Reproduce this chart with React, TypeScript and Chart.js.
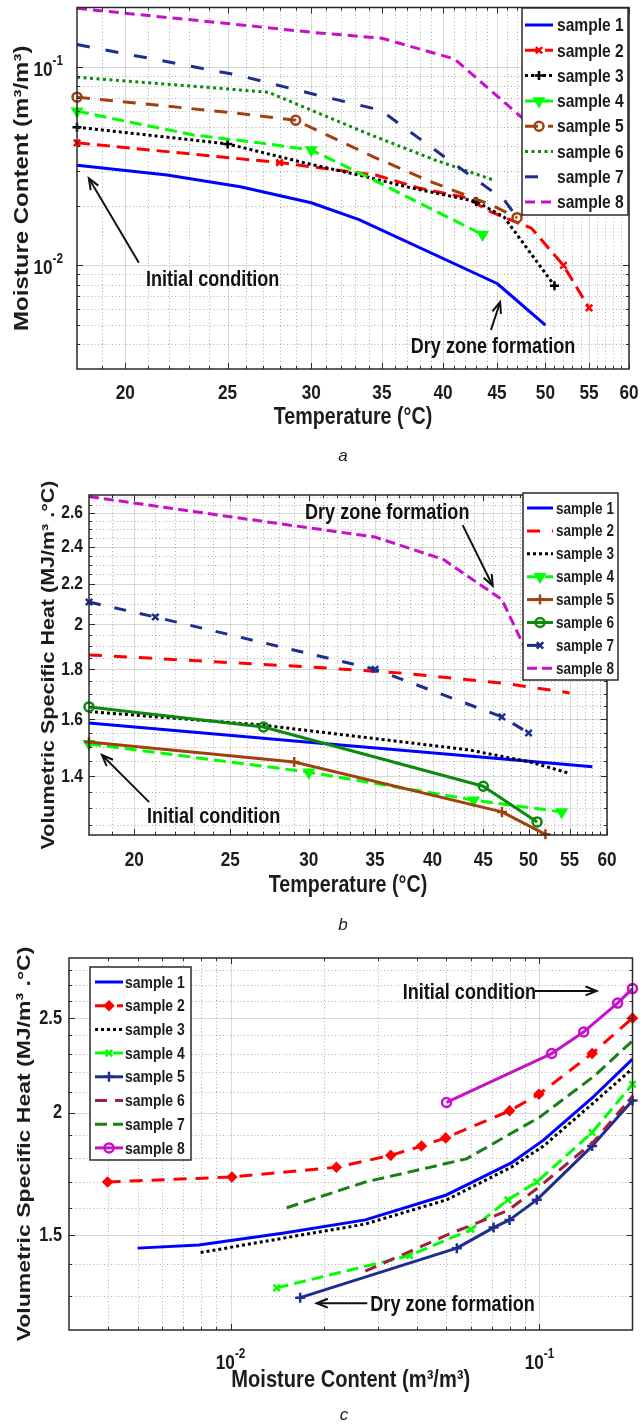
import { useEffect, useRef } from "react";
import { Chart, registerables } from "chart.js";
import { drawPoint } from "chart.js/helpers";

Chart.register(...registerables);

const SANS = '"Liberation Sans", Arial, sans-serif';
const INK = "#1c1c1c";
const SQ = 0.82; // horizontal squeeze of the original figure's lettering

// ---------------- tick values / labels ----------------
const TEMP_TICKS = [20, 25, 30, 35, 40, 45, 50, 55, 60];
const TEMP_TICK_LABELS = ["20", "25", "30", "35", "40", "45", "50", "55", "60"];
const TEMP_MINOR = [19, 21, 22, 23, 24, 26, 27, 28, 29, 31, 32, 33, 34, 36, 37, 38, 39, 41, 42, 43, 44, 46, 47, 48, 49, 51, 52, 53, 54, 56, 57, 58, 59];

const MC_TICKS = [0.01, 0.1];
const MC_TICK_LABELS = ["10⁻²", "10⁻¹"];
const MC_MINOR = [0.004, 0.005, 0.006, 0.007, 0.008, 0.009, 0.02, 0.03, 0.04, 0.05, 0.06, 0.07, 0.08, 0.09];

const CVB_TICKS = [1.4, 1.6, 1.8, 2, 2.2, 2.4, 2.6];
const CVB_TICK_LABELS = ["1.4", "1.6", "1.8", "2", "2.2", "2.4", "2.6"];
const CVB_MINOR = [1.25, 1.3, 1.35, 1.45, 1.5, 1.55, 1.65, 1.7, 1.75, 1.85, 1.9, 1.95, 2.05, 2.1, 2.15, 2.25, 2.3, 2.35, 2.45, 2.5, 2.55, 2.65, 2.7];

const CVC_TICKS = [1.5, 2, 2.5];
const CVC_TICK_LABELS = ["1.5", "2", "2.5"];
const CVC_MINOR = [1.3, 1.4, 1.6, 1.7, 1.8, 1.9, 2.1, 2.2, 2.3, 2.4, 2.6, 2.7, 2.8];

const LABELS = ["sample 1", "sample 2", "sample 3", "sample 4", "sample 5", "sample 6", "sample 7", "sample 8"];

// ---------------- panel a: temperature (°C) vs moisture content (m3/m3) ----------------
const aT1 = [18, 21.9, 25.7, 30, 33.3, 45, 50];
const aM1 = [0.032, 0.0286, 0.0249, 0.0207, 0.017, 0.0081, 0.005];
const aT2 = [18, 28, 34.6, 38, 42, 44.5, 48.5, 52, 55];
const aM2 = [0.0415, 0.033, 0.0285, 0.0245, 0.022, 0.0185, 0.0154, 0.01, 0.0061];
const aT3 = [18, 25, 29.5, 33.8, 37.3, 43, 45.7, 51];
const aM3 = [0.0498, 0.041, 0.033, 0.028, 0.0246, 0.021, 0.0175, 0.0079];
const aT4 = [18, 20.5, 23.2, 26.8, 30, 33.9, 37.8, 43.6];
const aM4 = [0.06, 0.052, 0.0455, 0.0415, 0.0382, 0.028, 0.0209, 0.0143];
const aT5 = [18, 25.5, 29, 34.4, 38.9, 44.4, 47];
const aM5 = [0.0706, 0.0586, 0.054, 0.0352, 0.0265, 0.0202, 0.0174];
const aT6 = [18, 27.3, 33.8, 39.3, 44.6];
const aM6 = [0.089, 0.0748, 0.0466, 0.034, 0.027];
const aT7 = [18, 25.6, 30.4, 34.9, 40.5, 45.7, 47];
const aM7 = [0.13, 0.091, 0.0723, 0.0607, 0.034, 0.0214, 0.0175];
const aT8 = [18, 25, 30, 35, 41, 48];
const aM8 = [0.198, 0.166, 0.15, 0.14, 0.11, 0.053];

// ---------------- panel b: temperature (°C) vs volumetric specific heat ----------------
const bT1 = [18, 30, 45, 58];
const bC1 = [1.587, 1.517, 1.464, 1.432];
const bT2 = [18, 30, 37, 47.6, 55];
const bC2 = [1.862, 1.81, 1.785, 1.74, 1.703];
const bT3 = [18, 26.8, 43.5, 50.2, 55];
const bC3 = [1.63, 1.58, 1.49, 1.448, 1.41];
const bT4 = [18, 30, 44, 54];
const bC4 = [1.511, 1.414, 1.324, 1.288];
const bT5 = [18, 29, 47, 52];
const bC5 = [1.518, 1.448, 1.288, 1.222];
const bT6 = [18, 27, 45, 51];
const bC6 = [1.648, 1.572, 1.368, 1.258];
const bT7 = [18, 21, 35, 47, 50];
const bC7 = [2.108, 2.035, 1.8, 1.61, 1.55];
const bT8 = [18, 25, 35, 41, 47, 51];
const bC8 = [2.7, 2.575, 2.455, 2.33, 2.12, 1.78];

// ---------------- panel c: moisture content vs volumetric specific heat ----------------
const cM1 = [0.005, 0.0079, 0.0149, 0.0273, 0.05, 0.081, 0.103, 0.15, 0.2];
const cC1 = [1.455, 1.466, 1.508, 1.555, 1.649, 1.778, 1.876, 2.08, 2.27];
const cM2 = [0.004, 0.0101, 0.022, 0.033, 0.0415, 0.0497, 0.08, 0.0996, 0.148, 0.2];
const cC2 = [1.7, 1.72, 1.76, 1.81, 1.85, 1.886, 2.01, 2.09, 2.3, 2.5];
const cM3 = [0.008, 0.0149, 0.0273, 0.05, 0.081, 0.103, 0.15, 0.2];
const cC3 = [1.44, 1.49, 1.54, 1.63, 1.76, 1.85, 2.05, 2.22];
const cM4 = [0.0141, 0.038, 0.06, 0.079, 0.098, 0.148, 0.2];
const cC4 = [1.325, 1.43, 1.52, 1.63, 1.7, 1.91, 2.14];
const cM5 = [0.0168, 0.054, 0.071, 0.08, 0.098, 0.148, 0.2];
const cC5 = [1.295, 1.455, 1.527, 1.555, 1.63, 1.85, 2.06];
const cM6 = [0.0273, 0.05, 0.079, 0.0996, 0.15, 0.2];
const cC6 = [1.378, 1.5, 1.59, 1.68, 1.87, 2.08];
const cM7 = [0.0152, 0.0273, 0.058, 0.1, 0.15, 0.2];
const cC7 = [1.6, 1.7, 1.795, 1.98, 2.18, 2.37];
const cM8 = [0.05, 0.1095, 0.139, 0.179, 0.2];
const cC8 = [2.05, 2.3, 2.42, 2.59, 2.68];

// ---------------- styles ----------------
const BLUE = "#0000ff";
const RED = "#ff0000";
const BLACK = "#000000";
const LIME = "#00ff00";
const BROWN = "#a0420f";
const GREEN = "#0b8a0b";
const NAVY = "#1d2e8e";
const MAGENTA = "#c710c7";
const MAROON = "#a3203d";
const DKGREEN = "#178017";

const seriesA = [
  { label: LABELS[0], x: aT1, y: aM1, color: BLUE },
  { label: LABELS[1], x: aT2, y: aM2, color: RED, dash: [13, 7], marker: "crossRot", marks: [0, 1, 7, 8], r: 4.5 },
  { label: LABELS[2], x: aT3, y: aM3, color: BLACK, dash: [3, 3], marker: "cross", marks: [0, 1, 5, 7], r: 4.5 },
  { label: LABELS[3], x: aT4, y: aM4, color: LIME, dash: [12, 6], marker: "triangle", rot: 180, marks: [0, 4, 7], r: 5 },
  { label: LABELS[4], x: aT5, y: aM5, color: BROWN, dash: [13, 10], marker: "circle", open: true, marks: [0, 2, 6], r: 4.5 },
  { label: LABELS[5], x: aT6, y: aM6, color: GREEN, dash: [3, 3.5] },
  { label: LABELS[6], x: aT7, y: aM7, color: NAVY, dash: [13, 16] },
  { label: LABELS[7], x: aT8, y: aM8, color: MAGENTA, dash: [10, 6] },
];

const seriesB = [
  { label: LABELS[0], x: bT1, y: bC1, color: BLUE },
  { label: LABELS[1], x: bT2, y: bC2, color: RED, dash: [13, 12] },
  { label: LABELS[2], x: bT3, y: bC3, color: BLACK, dash: [3, 3] },
  { label: LABELS[3], x: bT4, y: bC4, color: LIME, dash: [12, 6], marker: "triangle", rot: 180, r: 5 },
  { label: LABELS[4], x: bT5, y: bC5, color: BROWN, marker: "cross", r: 5 },
  { label: LABELS[5], x: bT6, y: bC6, color: GREEN, marker: "circle", open: true, r: 4.5 },
  { label: LABELS[6], x: bT7, y: bC7, color: NAVY, dash: [12, 14], marker: "crossRot", r: 4.5 },
  { label: LABELS[7], x: bT8, y: bC8, color: MAGENTA, dash: [10, 5] },
];

const seriesC = [
  { label: LABELS[0], x: cM1, y: cC1, color: BLUE },
  { label: LABELS[1], x: cM2, y: cC2, color: RED, dash: [13, 9], marker: "rectRot", r: 4 },
  { label: LABELS[2], x: cM3, y: cC3, color: BLACK, dash: [3, 3] },
  { label: LABELS[3], x: cM4, y: cC4, color: LIME, dash: [12, 6], marker: "crossRot", r: 4.5 },
  { label: LABELS[4], x: cM5, y: cC5, color: NAVY, marker: "cross", r: 5 },
  { label: LABELS[5], x: cM6, y: cC6, color: MAROON, dash: [12, 8] },
  { label: LABELS[6], x: cM7, y: cC7, color: DKGREEN, dash: [12, 6] },
  { label: LABELS[7], x: cM8, y: cC8, color: MAGENTA, marker: "circle", open: true, r: 4.5 },
];

// ---------------- panels ----------------
const PANEL_A = {
  id: "a",
  top: 0,
  height: 475,
  area: { left: 77, top: 7, right: 629, bottom: 369 },
  xMin: 18, xMax: 60, yMin: 0.003, yMax: 0.2,
  xMajor: TEMP_TICKS, xLabels: TEMP_TICK_LABELS, xMinor: TEMP_MINOR,
  yMajor: MC_TICKS, yLabels: MC_TICK_LABELS, yMinor: MC_MINOR,
  xTitle: "Temperature (°C)", yTitle: "Moisture Content (m³/m³)",
  xTickDy: 24, xTickSize: 21, yTickDx: 14, yTickSize: 21,
  xTitleSize: 24, xTitleDy: 48, yTitleSize: 24, yTitleX: 23,
  series: seriesA,
  legend: { x: 522, y: 8, w: 106, h: 207, row0: 25, step: 25.3, lx0: 525, lx1: 553, tx: 557, size: 19 },
  notes: [
    { text: "Initial condition", at: [24.2, 0.00843], from: [20.6, 0.0103], to: [18.47, 0.0275] },
    { text: "Dry zone formation", at: [44.6, 0.00387], from: [44.4, 0.00472], to: [45.3, 0.00653] },
  ],
  caption: { text: "a", x: 343, y: 456 },
};

const PANEL_B = {
  id: "b",
  top: 475,
  height: 470,
  area: { left: 89, top: 20, right: 607, bottom: 360 },
  xMin: 18, xMax: 60, yMin: 1.22, yMax: 2.71,
  xMajor: TEMP_TICKS, xLabels: TEMP_TICK_LABELS, xMinor: TEMP_MINOR,
  yMajor: CVB_TICKS, yLabels: CVB_TICK_LABELS, yMinor: CVB_MINOR,
  xTitle: "Temperature (°C)", yTitle: "Volumetric Specific Heat (MJ/m³ .°C)",
  xTickDy: 25, xTickSize: 21, yTickDx: 6, yTickSize: 19,
  xTitleSize: 24, xTitleDy: 50, yTitleSize: 21.5, yTitleX: 49,
  series: seriesB,
  legend: { x: 523, y: 18, w: 95, h: 187, row0: 33, step: 22.9, lx0: 527, lx1: 553, tx: 556, size: 16.5 },
  notes: [
    { text: "Dry zone formation", at: [36.0, 2.598], from: [42.9, 2.525], to: [46.0, 2.19] },
    { text: "Initial condition", at: [24.05, 1.272], from: [20.7, 1.318], to: [18.55, 1.472] },
  ],
  caption: { text: "b", x: 343, y: 450 },
};

const PANEL_C = {
  id: "c",
  top: 945,
  height: 480,
  area: { left: 69, top: 13, right: 636, bottom: 385 },
  xMin: 0.003, xMax: 0.2, yMin: 1.2, yMax: 2.88,
  xMajor: MC_TICKS, xLabels: MC_TICK_LABELS, xMinor: MC_MINOR,
  yMajor: CVC_TICKS, yLabels: CVC_TICK_LABELS, yMinor: CVC_MINOR,
  xTitle: "Moisture Content (m³/m³)", yTitle: "Volumetric Specific Heat (MJ/m³ .°C)",
  xTickDy: 30, xTickSize: 21, yTickDx: 7, yTickSize: 20,
  xTitleSize: 24.5, xTitleDy: 50, yTitleSize: 23, yTitleX: 25,
  series: seriesC,
  legend: { x: 90, y: 22, w: 101, h: 193, row0: 37, step: 23.7, lx0: 95, lx1: 123, tx: 125, size: 17 },
  notes: [
    { text: "Initial condition", at: [0.0593, 2.652], from: [0.0967, 2.665], to: [0.1531, 2.665] },
    { text: "Dry zone formation", at: [0.0523, 1.272], from: [0.0277, 1.278], to: [0.019, 1.278] },
  ],
  caption: { text: "c", x: 344, y: 470 },
};

// ---------------- helpers ----------------
const SUP: Record<string, string> = { "⁻": "-", "⁰": "0", "¹": "1", "²": "2", "³": "3", "⁴": "4", "⁵": "5", "⁶": "6", "⁷": "7", "⁸": "8", "⁹": "9" };

function sqText(ctx: CanvasRenderingContext2D, text: string, x: number, y: number, size: number, align: CanvasTextAlign = "center", style = "bold") {
  ctx.save();
  ctx.font = `${style} ${size}px ${SANS}`;
  ctx.textAlign = align;
  ctx.textBaseline = "middle";
  ctx.translate(x, y);
  ctx.scale(SQ, 1);
  ctx.fillText(text, 0, 0);
  ctx.restore();
}

// tick label; labels such as "10⁻²" are drawn as base + raised exponent
function tickText(ctx: CanvasRenderingContext2D, label: string, x: number, y: number, size: number, align: "center" | "right") {
  const m = label.match(/^(\d+)([⁻⁰¹²³⁴⁵⁶⁷⁸⁹]+)$/);
  if (!m) {
    sqText(ctx, label, x, y, size, align);
    return;
  }
  const base = m[1];
  const exp = m[2].split("").map((c) => SUP[c] || c).join("");
  const es = size * 0.68;
  ctx.save();
  ctx.font = `bold ${size}px ${SANS}`;
  const w1 = ctx.measureText(base).width * SQ;
  ctx.font = `bold ${es}px ${SANS}`;
  const w2 = ctx.measureText(exp).width * SQ;
  ctx.restore();
  const total = w1 + w2;
  const left = align === "center" ? x - total / 2 : x - total;
  sqText(ctx, base, left, y + size * 0.15, size, "left");
  sqText(ctx, exp, left + w1, y - size * 0.3, es, "left");
}

function toDataset(s: any, i: number, n: number) {
  const marks: number[] = s.marker ? s.marks || s.x.map((_: number, k: number) => k) : [];
  return {
    label: s.label,
    data: s.x.map((v: number, k: number) => ({ x: v, y: s.y[k] })),
    showLine: true,
    order: n - i,
    clip: false,
    borderColor: s.color,
    backgroundColor: s.color,
    borderWidth: 3,
    borderDash: s.dash || [],
    borderCapStyle: "butt",
    borderJoinStyle: "round",
    tension: 0,
    pointStyle: s.marker || "circle",
    pointRotation: s.rot || 0,
    pointRadius: s.x.map((_: number, k: number) => (marks.includes(k) ? s.r || 5 : 0)),
    pointHitRadius: 0,
    pointHoverRadius: 0,
    pointBorderColor: s.color,
    pointBackgroundColor: s.open ? "rgba(255,255,255,0)" : s.color,
    pointBorderWidth: 2.5,
  };
}

function arrowTo(ctx: CanvasRenderingContext2D, x0: number, y0: number, x1: number, y1: number) {
  ctx.beginPath();
  ctx.moveTo(x0, y0);
  ctx.lineTo(x1, y1);
  ctx.stroke();
  const a = Math.atan2(y1 - y0, x1 - x0);
  const L = 12;
  const sp = 0.38;
  ctx.beginPath();
  ctx.moveTo(x1 - L * Math.cos(a - sp), y1 - L * Math.sin(a - sp));
  ctx.lineTo(x1, y1);
  ctx.lineTo(x1 - L * Math.cos(a + sp), y1 - L * Math.sin(a + sp));
  ctx.stroke();
}

function panelPlugin(p: any) {
  return {
    id: "panel-" + p.id,
    beforeDatasetsDraw(chart: any) {
      const { ctx, chartArea: a } = chart;
      const sx = chart.scales.x;
      const sy = chart.scales.y;
      ctx.save();
      ctx.lineWidth = 1;
      ctx.strokeStyle = "rgba(110,110,110,0.55)";
      ctx.setLineDash([1, 2.5]);
      ctx.beginPath();
      for (const v of p.xMinor) {
        const px = Math.round(sx.getPixelForValue(v)) + 0.5;
        ctx.moveTo(px, a.top);
        ctx.lineTo(px, a.bottom);
      }
      for (const v of p.yMinor) {
        const py = Math.round(sy.getPixelForValue(v)) + 0.5;
        ctx.moveTo(a.left, py);
        ctx.lineTo(a.right, py);
      }
      ctx.stroke();
      ctx.setLineDash([]);
      ctx.strokeStyle = "rgba(0,0,0,0.15)";
      ctx.beginPath();
      for (const v of p.xMajor) {
        const px = Math.round(sx.getPixelForValue(v)) + 0.5;
        ctx.moveTo(px, a.top);
        ctx.lineTo(px, a.bottom);
      }
      for (const v of p.yMajor) {
        const py = Math.round(sy.getPixelForValue(v)) + 0.5;
        ctx.moveTo(a.left, py);
        ctx.lineTo(a.right, py);
      }
      ctx.stroke();
      ctx.restore();
    },
    afterDatasetsDraw(chart: any) {
      const { ctx, chartArea: a } = chart;
      const sx = chart.scales.x;
      const sy = chart.scales.y;
      ctx.save();
      // frame
      ctx.strokeStyle = "#2a2a2a";
      ctx.lineWidth = 1.5;
      ctx.setLineDash([]);
      ctx.strokeRect(a.left, a.top, a.right - a.left, a.bottom - a.top);
      // inward ticks
      ctx.lineWidth = 1;
      ctx.beginPath();
      const xt = (vals: number[], len: number) => {
        for (const v of vals) {
          const px = Math.round(sx.getPixelForValue(v)) + 0.5;
          ctx.moveTo(px, a.bottom);
          ctx.lineTo(px, a.bottom - len);
          ctx.moveTo(px, a.top);
          ctx.lineTo(px, a.top + len);
        }
      };
      const yt = (vals: number[], len: number) => {
        for (const v of vals) {
          const py = Math.round(sy.getPixelForValue(v)) + 0.5;
          ctx.moveTo(a.left, py);
          ctx.lineTo(a.left + len, py);
          ctx.moveTo(a.right, py);
          ctx.lineTo(a.right - len, py);
        }
      };
      xt(p.xMajor, 6);
      xt(p.xMinor, 3);
      yt(p.yMajor, 6);
      yt(p.yMinor, 3);
      ctx.stroke();

      // tick labels and axis titles
      ctx.fillStyle = INK;
      p.xMajor.forEach((v: number, i: number) => {
        tickText(ctx, p.xLabels[i], sx.getPixelForValue(v), a.bottom + p.xTickDy, p.xTickSize, "center");
      });
      p.yMajor.forEach((v: number, i: number) => {
        tickText(ctx, p.yLabels[i], a.left - p.yTickDx, sy.getPixelForValue(v), p.yTickSize, "right");
      });
      sqText(ctx, p.xTitle, (a.left + a.right) / 2, a.bottom + p.xTitleDy, p.xTitleSize);
      ctx.save();
      ctx.translate(p.yTitleX, (a.top + a.bottom) / 2);
      ctx.scale(SQ, 1);
      ctx.rotate(-Math.PI / 2);
      ctx.font = `bold ${p.yTitleSize}px ${SANS}`;
      ctx.textAlign = "center";
      ctx.textBaseline = "middle";
      ctx.fillText(p.yTitle, 0, 0);
      ctx.restore();

      // annotations
      ctx.strokeStyle = "#111";
      ctx.fillStyle = "#111";
      ctx.lineWidth = 2;
      for (const n of p.notes) {
        sqText(ctx, n.text, sx.getPixelForValue(n.at[0]), sy.getPixelForValue(n.at[1]), 22);
        arrowTo(
          ctx,
          sx.getPixelForValue(n.from[0]),
          sy.getPixelForValue(n.from[1]),
          sx.getPixelForValue(n.to[0]),
          sy.getPixelForValue(n.to[1])
        );
      }

      // legend
      const L = p.legend;
      ctx.fillStyle = "#ffffff";
      ctx.fillRect(L.x, L.y, L.w, L.h);
      ctx.strokeStyle = "#2a2a2a";
      ctx.lineWidth = 1.5;
      ctx.strokeRect(L.x, L.y, L.w, L.h);
      p.series.forEach((s: any, i: number) => {
        const yy = L.row0 + i * L.step;
        ctx.strokeStyle = s.color;
        ctx.lineWidth = 3;
        ctx.lineCap = "butt";
        ctx.setLineDash(s.dash || []);
        ctx.beginPath();
        ctx.moveTo(L.lx0, yy);
        ctx.lineTo(L.lx1, yy);
        ctx.stroke();
        ctx.setLineDash([]);
        if (s.marker) {
          ctx.lineWidth = 2.5;
          ctx.fillStyle = s.open ? "rgba(255,255,255,0)" : s.color;
          drawPoint(ctx, { pointStyle: s.marker, rotation: s.rot || 0, radius: s.r || 5, borderWidth: 2.5 }, (L.lx0 + L.lx1) / 2, yy);
        }
        ctx.fillStyle = INK;
        sqText(ctx, s.label, L.tx, yy + 1, L.size, "left");
      });

      // caption
      ctx.fillStyle = "#222";
      ctx.font = `italic 17px ${SANS}`;
      ctx.textAlign = "center";
      ctx.textBaseline = "middle";
      ctx.fillText(p.caption.text, p.caption.x, p.caption.y);
      ctx.restore();
    },
  };
}

function makeChart(canvas: HTMLCanvasElement, p: any) {
  return new Chart(canvas, {
    type: "scatter",
    data: { datasets: p.series.map((s: any, i: number) => toDataset(s, i, p.series.length)) as any },
    options: {
      animation: false,
      responsive: false,
      maintainAspectRatio: false,
      devicePixelRatio: 1,
      events: [],
      layout: { padding: { left: 0, top: p.area.top, right: 640 - p.area.right, bottom: 0 } },
      plugins: { legend: { display: false }, tooltip: { enabled: false }, title: { display: false } },
      scales: {
        x: {
          type: "logarithmic",
          min: p.xMin,
          max: p.xMax,
          grid: { display: false, drawTicks: false },
          border: { display: false },
          ticks: { display: false },
          title: { display: false },
          afterFit: (s: any) => {
            s.height = p.height - p.area.bottom;
          },
        },
        y: {
          type: "logarithmic",
          min: p.yMin,
          max: p.yMax,
          grid: { display: false, drawTicks: false },
          border: { display: false },
          ticks: { display: false },
          title: { display: false },
          afterFit: (s: any) => {
            s.width = p.area.left;
          },
        },
      },
    } as any,
    plugins: [panelPlugin(p)],
  });
}

export default function App() {
  const refA = useRef<HTMLCanvasElement>(null);
  const refB = useRef<HTMLCanvasElement>(null);
  const refC = useRef<HTMLCanvasElement>(null);

  useEffect(() => {
    const charts = [
      makeChart(refA.current as HTMLCanvasElement, PANEL_A),
      makeChart(refB.current as HTMLCanvasElement, PANEL_B),
      makeChart(refC.current as HTMLCanvasElement, PANEL_C),
    ];
    return () => charts.forEach((c) => c.destroy());
  }, []);

  const cs = (p: any) => ({ position: "absolute" as const, left: 0, top: p.top, width: 640, height: p.height });

  return (
    <div style={{ position: "absolute", left: 0, top: 0, width: 640, height: 1425, background: "#fff" }}>
      <canvas ref={refA} width={640} height={PANEL_A.height} style={cs(PANEL_A)} />
      <canvas ref={refB} width={640} height={PANEL_B.height} style={cs(PANEL_B)} />
      <canvas ref={refC} width={640} height={PANEL_C.height} style={cs(PANEL_C)} />
    </div>
  );
}
